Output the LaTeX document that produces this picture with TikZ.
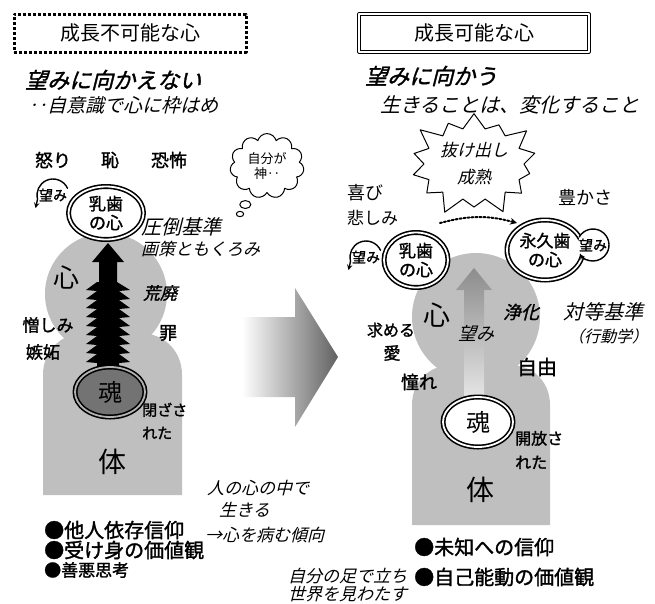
\documentclass[tikz,border=0pt]{standalone}
\usepackage{fontspec}
\setmainfont{Noto Sans CJK JP}
\newfontfamily\jpb[FakeBold=1.5]{Noto Sans CJK JP}
\newfontfamily\jpi[FakeSlant=0.25]{Noto Sans CJK JP}
\newfontfamily\jpbi[FakeSlant=0.25,FakeBold=1.5]{Noto Sans CJK JP}
\newcommand\pts[2]{\fontsize{#1}{#2}\selectfont}
\usetikzlibrary{shapes.geometric,shapes.symbols,shapes.callouts}
\definecolor{mindgray}{gray}{0.75}

\begin{document}
\begin{tikzpicture}[x=1pt,y=-1pt,line join=round,line cap=round,>=stealth]
	\tikzset{heading/.style={anchor=west,inner sep=0pt,font=\jpbi\pts{22}{22}},
		remark/.style={anchor=west,inner sep=0pt,font=\jpi\pts{17}{17}},
		feel/.style={inner sep=0pt,font=\jpb\pts{18}{18}},
		belief/.style={anchor=west,inner sep=0pt,font=\jpb\pts{20}{20}},
		tooth/.style={ellipse,draw,double,double distance=1.8pt,line width=1.6pt,fill=white,
			inner sep=0pt,align=center,font=\jpb\pts{17}{19}},
		want/.style={circle,fill=white,minimum size=30pt,inner sep=0pt,font=\jpb\pts{14}{14}},
		soul/.style={ellipse,draw,double,double distance=1.8pt,line width=1.6pt,
			minimum width=70pt,minimum height=50pt,inner sep=0pt,font=\pts{24}{24}}}
	\useasboundingbox (0,0) rectangle (655,603);
	% titles
	\node[draw,line width=3pt,line cap=butt,dash pattern=on 3pt off 2pt,
		minimum width=232pt,minimum height=38pt,font=\pts{20}{20}] (tleft) at (130,33) {成長不可能な心};
	\node[draw,double,double distance=1.6pt,line width=0.8pt,
		minimum width=230pt,minimum height=38pt,font=\pts{20}{20}] (tright) at (474,33) {成長可能な心};
	\node[heading] (hleft) at (25,80) {望みに向かえない};
	\node[remark,font=\jpi\pts{19}{19}] (sleft) at (28,105) {‥自意識で心に枠はめ};
	\node[heading] (hright) at (365,76) {望みに向かう};
	\node[remark,font=\jpi\pts{20}{20}] (sright) at (380,105) {生きることは、変化すること};
	% middle arrow
	\shade[left color=white,right color=black!62] (242,317) -- (295,317) -- (295,288) -- (338,357)
		-- (295,427) -- (295,397) -- (242,397) -- cycle;
	% ---- left figure ----
	\fill[mindgray] (106,294) circle (61);
	\fill[mindgray] (43,495) -- (43,375) .. controls (43,350) and (62,333) .. (85,333) -- (140,333)
		.. controls (163,333) and (182,350) .. (182,375) -- (182,495) -- cycle;
	\fill (108,243) -- (124,262) -- (117,262) -- (117,282)
		\foreach \y in {282,291,...,354} { -- (130,\y+8) -- (119,\y+9) }
		-- (119,368) -- (97,368) -- (97,363)
		\foreach \y in {354,345,...,282} { -- (86,\y+8) -- (97,\y) }
		-- (99,282) -- (99,262) -- (92,262) -- cycle;
	\node[soul,fill=black!55,double=black!30] (soulL) at (110,392) {魂};
	\node[tooth,minimum width=75pt,minimum height=53pt] (milkL) at (106,213) {乳歯\\の心};
	\node[want] (wantL) at (53,195) {望み};
	\draw[line width=1.4pt,->] ([shift={(-25:16)}]wantL.center) arc[start angle=-25,end angle=-195,radius=16]
		-- ++(-2,9);
	\node[cloud callout,draw,line width=1pt,cloud puffs=11,minimum width=74pt,minimum height=42pt,
		inner sep=0pt,align=center,font=\pts{13}{15},callout absolute pointer={(240,214)}] (boast) at (267,166) {自分が\\神‥};
	\node[feel] (anger) at (53,160) {怒り};
	\node[feel] (shame) at (110,160) {恥};
	\node[feel] (fear) at (169,160) {恐怖};
	\node[remark,font=\jpi\pts{20}{20}] (scaleL) at (141,227) {圧倒基準};
	\node[remark] (plotL) at (141,249) {画策ともくろみ};
	\node[font=\pts{26}{26}] (mindL) at (66,277) {心};
	\node[feel,font=\jpbi\pts{17}{17}] (ruin) at (160,293) {荒廃};
	\node[feel,font=\jpb\pts{17}{17}] (hate) at (48,325) {憎しみ};
	\node[feel,font=\jpb\pts{17}{17}] (envy) at (43,352) {嫉妬};
	\node[feel] (sin) at (168,333) {罪};
	\node[anchor=west,inner sep=0pt,align=left,font=\jpb\pts{15}{23}] (shut) at (142,421) {閉ざさ\\れた};
	\node[font=\pts{28}{28}] (bodyL) at (112,462) {体};
	\node[belief] (b1) at (44,530) {●他人依存信仰};
	\node[belief] (b2) at (44,550) {●受け身の価値観};
	\node[belief,font=\jpb\pts{17}{17}] (b3) at (44,570) {●善悪思考};
	\node[remark] (n1) at (207,488) {人の心の中で};
	\node[remark] (n2) at (219,510) {生きる};
	\node[remark] (n3) at (205,535) {→心を病む傾向};
	\node[remark] (m1) at (288,576) {自分の足で立ち};
	\node[remark] (m2) at (288,594) {世界を見わたす};
	% ---- right figure ----
	\fill[mindgray] (476,317) circle (64);
	\fill[mindgray] (412,525) -- (412,405) .. controls (412,381) and (430,365) .. (452,365) -- (510,365)
		.. controls (532,365) and (550,381) .. (550,405) -- (550,525) -- cycle;
	\shade[top color=black!45,middle color=white,bottom color=black!10] (474,268) -- (492,290) -- (484,290)
		-- (484,398) -- (464,398) -- (464,290) -- (456,290) -- cycle;
	\node[soul,fill=white] (soulR) at (478,422) {魂};
	\node[starburst,draw,line width=1pt,minimum width=140pt,minimum height=112pt,starburst points=14,
		starburst point height=20pt,inner sep=0pt,align=center,font=\jpi\pts{17}{27}] (burst) at (474,164) {抜け出し\\成熟};
	\node[anchor=west,inner sep=0pt,font=\pts{18}{18}] (joy) at (347,193) {喜び};
	\node[anchor=west,inner sep=0pt,font=\pts{17}{17}] (grief) at (347,218) {悲しみ};
	\node[anchor=west,inner sep=0pt,font=\pts{18}{18}] (rich) at (558,197) {豊かさ};
	\coordinate (leap) at (440,223);
	\coordinate (land) at (517,223);
	\draw[dotted,line width=2pt,->] (leap) to[out=15,in=165] (land);
	\node[tooth,minimum width=64pt,minimum height=55pt] (milkR) at (416,260) {乳歯\\の心};
	\node[want] (wantR1) at (366,257) {望み};
	\draw[line width=1.4pt,->] ([shift={(-25:16)}]wantR1.center) arc[start angle=-25,end angle=-195,radius=16]
		-- ++(-2,9);
	\node[tooth,minimum width=76pt,minimum height=60pt] (permR) at (545,250) {永久歯\\の心};
	\node[want] (wantR2) at (593,245) {望み};
	\draw[line width=1.4pt,->] ([shift={(-150:16)}]wantR2.center) arc[start angle=-150,end angle=145,radius=16];
	\node[remark,font=\jpi\pts{20}{20}] (scaleR) at (563,312) {対等基準};
	\node[remark,font=\jpi\pts{16}{16}] (scaleR2) at (568,336) {（行動学）};
	\node[font=\pts{27}{27}] (mindR) at (437,315) {心};
	\node[feel,font=\jpbi\pts{18}{18}] (pure) at (521,312) {浄化};
	\node[feel,font=\jpi\pts{18}{18}] (hope) at (476,333) {望み};
	\node[feel,font=\jpb\pts{16}{16}] (seek) at (391,330) {求める};
	\node[feel,font=\jpb\pts{17}{17}] (love) at (392,353) {愛};
	\node[feel] (long) at (419,382) {憧れ};
	\node[feel,font=\jpb\pts{20}{20}] (free) at (537,367) {自由};
	\node[anchor=west,inner sep=0pt,align=left,font=\jpb\pts{16}{24}] (open) at (515,450) {開放さ\\れた};
	\node[font=\pts{28}{28}] (bodyR) at (480,490) {体};
	\node[belief] (c1) at (414,547) {●未知への信仰};
	\node[belief] (c2) at (414,577) {●自己能動の価値観};
\end{tikzpicture}
\end{document}
